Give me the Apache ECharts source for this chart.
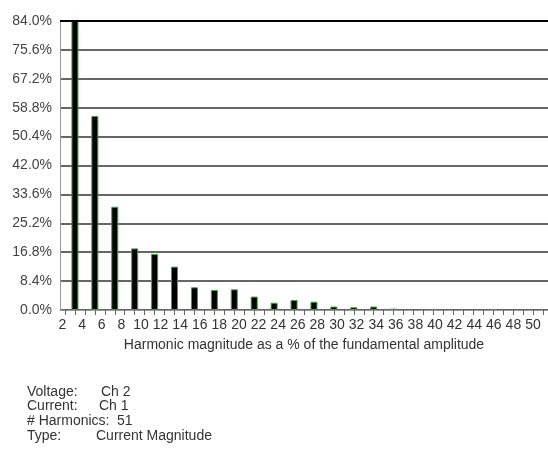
<!DOCTYPE html>
<html>
<head>
<meta charset="utf-8">
<script src="https://cdn.jsdelivr.net/npm/echarts@6/dist/echarts.min.js"></script>
<style>
html,body{margin:0;padding:0;background:#fff;}
#chart{width:548px;height:451px;}
</style>
</head>
<body>
<div id="chart"></div>
<script>
// ---- data ----
const categories = ['2','3','4','5','6','7','8','9','10','11','12','13','14','15','16','17','18','19','20','21','22','23','24','25','26','27','28','29','30','31','32','33','34','35','36','37','38','39','40','41','42','43','44','45','46','47','48','49','50'];
const harmonics = [3,5,7,9,11,13,15,17,19,21,23,25,27,29,31,33,35,39,45];
const magnitudes = [84.0,56.4,30.0,17.9,16.3,12.6,6.6,5.8,6.0,3.9,2.1,2.9,2.4,1.0,0.8,1.0,0.4,0.3,0.3];
const tickLabels = ['2','4','6','8','10','12','14','16','18','20','22','24','26','28','30','32','34','36','38','40','42','44','46','48','50'];
const yTickStep = 8.4;
const yMax = 84;
const axisTitle = 'Harmonic magnitude as a % of the fundamental amplitude';
const infoLabels = ['Voltage:','Current:','# Harmonics:','Type:'];
const infoValues = ['Ch 2','Ch 1','51','Current Magnitude'];

// ---- build ----
const lookup = {};
harmonics.forEach((h,i)=>{ lookup[String(h)] = magnitudes[i]; });
const seriesData = categories.map(c => (c in lookup) ? lookup[c] : null);

const FONT = "'Liberation Sans', Arial, sans-serif";
const NARROW = "'Liberation Sans Narrow', 'Arial Narrow', 'Liberation Sans', Arial, sans-serif";
const infoValueX = [101, 99, 117, 96];
const infoY = [392, 406.5, 421, 436];
const graphics = [];
infoLabels.forEach((t,i)=>{
  graphics.push({type:'text', x:27, y:infoY[i], style:{text:t, font:'14px '+FONT, fill:'#333', verticalAlign:'middle'}});
  graphics.push({type:'text', x:infoValueX[i], y:infoY[i], style:{text:infoValues[i], font:'14px '+FONT, fill:'#333', verticalAlign:'middle'}});
});

const chart = echarts.init(document.getElementById('chart'), null, {renderer:'canvas'});
chart.setOption({
  animation:false,
  backgroundColor:'#fff',
  grid:[
    {left:60, right:0, top:21, bottom:141, containLabel:false},
    {left:62.5, right:15, top:21, bottom:141, containLabel:false}
  ],
  xAxis:[
    {
      type:'category', gridIndex:0, data:categories, boundaryGap:true,
      axisLine:{show:true, lineStyle:{color:'#999', width:1}},
      axisTick:{show:true, alignWithLabel:true, interval:0, length:5, lineStyle:{color:'#666'}},
      axisLabel:{show:false},
      splitLine:{show:false},
      name:axisTitle, nameLocation:'middle', nameGap:28,
      nameTextStyle:{fontSize:14, fontFamily:FONT, color:'#333'}
    },
    {
      type:'category', gridIndex:1, data:tickLabels, boundaryGap:false,
      axisLine:{show:false}, axisTick:{show:false}, splitLine:{show:false},
      axisLabel:{show:true, interval:0, margin:8, fontSize:14, fontFamily:NARROW, color:'#333'}
    }
  ],
  yAxis:[
    {
      type:'value', gridIndex:0, min:0, max:yMax, interval:yTickStep,
      axisLine:{show:true, lineStyle:{color:'#999', width:1}},
      axisTick:{show:false},
      axisLabel:{margin:8, fontSize:14, fontFamily:FONT, color:'#444',
        formatter:(v)=>v.toFixed(1)+'%'},
      splitLine:{show:true, lineStyle:{color:'#333', width:1.5}}
    },
    {type:'value', gridIndex:1, show:false, min:0, max:1}
  ],
  series:[
    {
      type:'bar', xAxisIndex:0, yAxisIndex:0, data:seriesData, barWidth:7,
      itemStyle:{color:'#000', borderColor:'#3f9f3f', borderWidth:1},
      markLine:{silent:true, symbol:'none', label:{show:false},
        lineStyle:{color:'#000', width:2, type:'solid'},
        data:[{yAxis:yMax}]}
    }
  ],
  graphic:graphics
});
</script>
</body>
</html>
